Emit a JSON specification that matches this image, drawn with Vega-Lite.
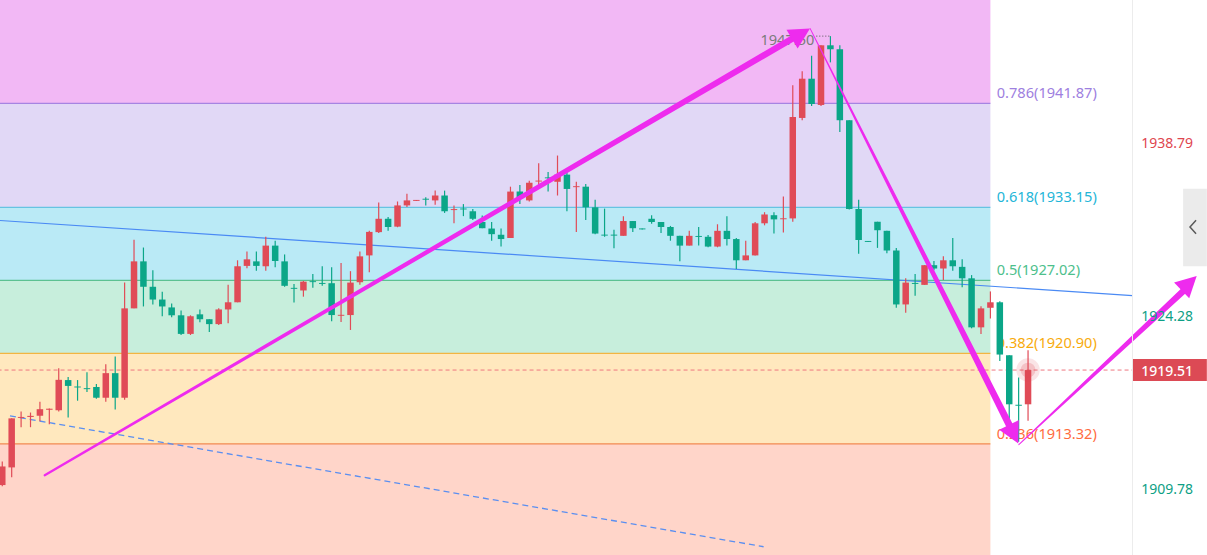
{
  "$schema": "https://vega.github.io/schema/vega-lite/v6.json",
  "width": 1197,
  "height": 545,
  "padding": {"left": 5, "top": 5, "right": 5, "bottom": 5},
  "autosize": {"type": "none"},
  "background": "#ffffff",
  "config": {"view": {"stroke": null}, "text": {"font": "Noto Sans"}},
  "resolve": {"scale": {"fill": "independent", "stroke": "independent", "color": "independent"}},
  "datasets": {
    "candles": [
      {"t":-1,"o":1909.87,"h":1911.84,"l":1909.78,"c":1911.43},
      {"t":0,"o":1911.35,"h":1915.46,"l":1910.52,"c":1915.46},
      {"t":1,"o":1915.50,"h":1916.04,"l":1914.72,"c":1915.58},
      {"t":2,"o":1915.58,"h":1915.95,"l":1914.72,"c":1915.67},
      {"t":3,"o":1915.68,"h":1916.86,"l":1915.21,"c":1916.23},
      {"t":4,"o":1916.18,"h":1916.28,"l":1914.97,"c":1916.27},
      {"t":5,"o":1916.14,"h":1919.66,"l":1916.04,"c":1918.69},
      {"t":6,"o":1918.67,"h":1918.92,"l":1915.54,"c":1918.18},
      {"t":7,"o":1918.13,"h":1918.67,"l":1916.94,"c":1918.05},
      {"t":8,"o":1917.99,"h":1919.33,"l":1917.68,"c":1917.91},
      {"t":9,"o":1918.09,"h":1918.34,"l":1917.11,"c":1917.19},
      {"t":10,"o":1917.19,"h":1919.99,"l":1916.86,"c":1919.25},
      {"t":11,"o":1919.25,"h":1920.64,"l":1916.20,"c":1917.19},
      {"t":12,"o":1917.19,"h":1926.84,"l":1917.02,"c":1924.68},
      {"t":13,"o":1924.68,"h":1930.44,"l":1924.68,"c":1928.62},
      {"t":14,"o":1928.62,"h":1929.78,"l":1924.84,"c":1926.49},
      {"t":15,"o":1926.49,"h":1927.88,"l":1925.01,"c":1925.42},
      {"t":16,"o":1925.42,"h":1926.07,"l":1924.02,"c":1924.84},
      {"t":17,"o":1924.76,"h":1925.09,"l":1923.93,"c":1924.10},
      {"t":18,"o":1924.10,"h":1924.51,"l":1922.45,"c":1922.54},
      {"t":19,"o":1922.54,"h":1924.10,"l":1922.45,"c":1924.02},
      {"t":20,"o":1924.18,"h":1924.59,"l":1923.52,"c":1923.77},
      {"t":21,"o":1923.77,"h":1923.77,"l":1922.70,"c":1923.36},
      {"t":22,"o":1923.36,"h":1924.68,"l":1923.28,"c":1924.59},
      {"t":23,"o":1924.59,"h":1926.65,"l":1923.44,"c":1925.19},
      {"t":24,"o":1925.19,"h":1928.71,"l":1925.19,"c":1928.21},
      {"t":25,"o":1928.24,"h":1929.45,"l":1928.05,"c":1928.79},
      {"t":26,"o":1928.62,"h":1929.45,"l":1927.83,"c":1928.24},
      {"t":27,"o":1928.21,"h":1930.68,"l":1927.83,"c":1929.94},
      {"t":28,"o":1929.94,"h":1930.35,"l":1928.13,"c":1928.65},
      {"t":29,"o":1928.62,"h":1929.20,"l":1926.49,"c":1926.57},
      {"t":30,"o":1926.40,"h":1926.73,"l":1925.17,"c":1926.32},
      {"t":31,"o":1926.18,"h":1926.98,"l":1925.66,"c":1926.92},
      {"t":32,"o":1926.96,"h":1927.56,"l":1926.40,"c":1926.88},
      {"t":33,"o":1926.81,"h":1928.21,"l":1926.57,"c":1926.73},
      {"t":34,"o":1926.79,"h":1928.13,"l":1923.61,"c":1924.12},
      {"t":35,"o":1924.06,"h":1928.49,"l":1923.53,"c":1924.14},
      {"t":36,"o":1924.12,"h":1927.80,"l":1922.87,"c":1926.84},
      {"t":37,"o":1926.87,"h":1929.45,"l":1926.65,"c":1929.04},
      {"t":38,"o":1929.12,"h":1931.18,"l":1927.70,"c":1931.09},
      {"t":39,"o":1931.07,"h":1933.56,"l":1930.99,"c":1932.19},
      {"t":40,"o":1932.19,"h":1932.33,"l":1931.18,"c":1931.50},
      {"t":41,"o":1931.53,"h":1933.64,"l":1931.48,"c":1933.31},
      {"t":42,"o":1933.31,"h":1934.28,"l":1933.17,"c":1933.73},
      {"t":43,"o":1933.69,"h":1933.77,"l":1933.69,"c":1933.77},
      {"t":44,"o":1933.87,"h":1933.99,"l":1933.31,"c":1933.79},
      {"t":45,"o":1933.73,"h":1934.55,"l":1933.37,"c":1934.14},
      {"t":46,"o":1934.14,"h":1934.55,"l":1932.68,"c":1932.82},
      {"t":47,"o":1932.92,"h":1933.31,"l":1931.81,"c":1933.00},
      {"t":48,"o":1933.05,"h":1933.42,"l":1932.41,"c":1932.97},
      {"t":49,"o":1932.82,"h":1933.01,"l":1932.08,"c":1932.19},
      {"t":50,"o":1931.92,"h":1932.47,"l":1931.40,"c":1931.40},
      {"t":51,"o":1931.37,"h":1931.92,"l":1930.35,"c":1930.90},
      {"t":52,"o":1930.85,"h":1931.37,"l":1929.86,"c":1930.49},
      {"t":53,"o":1930.58,"h":1934.88,"l":1930.58,"c":1934.47},
      {"t":54,"o":1934.47,"h":1935.02,"l":1933.42,"c":1933.92},
      {"t":55,"o":1933.73,"h":1935.37,"l":1933.64,"c":1935.21},
      {"t":56,"o":1935.31,"h":1936.85,"l":1934.74,"c":1935.39},
      {"t":57,"o":1935.66,"h":1936.11,"l":1934.47,"c":1935.58},
      {"t":58,"o":1935.29,"h":1937.49,"l":1934.14,"c":1935.89},
      {"t":59,"o":1935.89,"h":1936.11,"l":1932.82,"c":1934.69},
      {"t":60,"o":1934.84,"h":1935.29,"l":1931.09,"c":1934.92},
      {"t":61,"o":1934.88,"h":1935.10,"l":1932.08,"c":1933.15},
      {"t":62,"o":1933.15,"h":1933.78,"l":1930.90,"c":1930.95},
      {"t":63,"o":1930.86,"h":1933.04,"l":1930.68,"c":1930.78},
      {"t":64,"o":1930.86,"h":1931.26,"l":1929.72,"c":1930.78},
      {"t":65,"o":1930.76,"h":1932.41,"l":1930.76,"c":1932.00},
      {"t":66,"o":1932.00,"h":1932.00,"l":1931.09,"c":1931.40},
      {"t":67,"o":1931.38,"h":1931.38,"l":1931.30,"c":1931.30},
      {"t":68,"o":1932.19,"h":1932.49,"l":1931.78,"c":1931.92},
      {"t":69,"o":1931.92,"h":1931.92,"l":1930.99,"c":1931.50},
      {"t":70,"o":1931.50,"h":1931.59,"l":1930.35,"c":1930.76},
      {"t":71,"o":1930.76,"h":1930.76,"l":1928.62,"c":1929.94},
      {"t":72,"o":1929.94,"h":1931.18,"l":1929.94,"c":1930.76},
      {"t":73,"o":1930.75,"h":1931.50,"l":1929.94,"c":1930.67},
      {"t":74,"o":1930.68,"h":1930.82,"l":1929.80,"c":1929.86},
      {"t":75,"o":1929.86,"h":1931.73,"l":1929.80,"c":1931.18},
      {"t":76,"o":1931.18,"h":1932.41,"l":1929.94,"c":1930.49},
      {"t":77,"o":1930.49,"h":1930.57,"l":1927.97,"c":1928.71},
      {"t":78,"o":1928.71,"h":1930.35,"l":1928.71,"c":1929.12},
      {"t":79,"o":1929.12,"h":1931.92,"l":1929.12,"c":1931.81},
      {"t":80,"o":1931.81,"h":1932.74,"l":1931.64,"c":1932.55},
      {"t":81,"o":1932.49,"h":1932.74,"l":1930.95,"c":1932.14},
      {"t":82,"o":1932.15,"h":1934.06,"l":1931.04,"c":1932.23},
      {"t":83,"o":1932.22,"h":1943.38,"l":1931.94,"c":1940.72},
      {"t":84,"o":1940.64,"h":1944.56,"l":1940.45,"c":1943.93},
      {"t":85,"o":1943.93,"h":1945.85,"l":1941.65,"c":1941.81},
      {"t":86,"o":1941.73,"h":1946.73,"l":1941.65,"c":1946.73},
      {"t":87,"o":1946.73,"h":1947.50,"l":1945.30,"c":1946.40},
      {"t":88,"o":1946.40,"h":1946.73,"l":1939.46,"c":1940.45},
      {"t":89,"o":1940.45,"h":1940.45,"l":1932.96,"c":1933.01},
      {"t":90,"o":1933.01,"h":1933.78,"l":1929.26,"c":1930.41},
      {"t":91,"o":1930.33,"h":1930.33,"l":1930.25,"c":1930.25},
      {"t":92,"o":1931.94,"h":1931.94,"l":1929.75,"c":1931.23},
      {"t":93,"o":1931.18,"h":1931.18,"l":1929.31,"c":1929.53},
      {"t":94,"o":1929.53,"h":1929.75,"l":1924.73,"c":1925.01},
      {"t":95,"o":1925.01,"h":1927.20,"l":1924.32,"c":1926.84},
      {"t":96,"o":1926.81,"h":1927.56,"l":1925.74,"c":1926.73},
      {"t":97,"o":1926.65,"h":1928.30,"l":1926.65,"c":1928.30},
      {"t":98,"o":1928.30,"h":1928.65,"l":1927.88,"c":1928.02},
      {"t":99,"o":1928.02,"h":1929.04,"l":1927.06,"c":1928.71},
      {"t":100,"o":1928.71,"h":1930.58,"l":1927.83,"c":1928.21},
      {"t":101,"o":1928.16,"h":1928.79,"l":1926.46,"c":1927.20},
      {"t":102,"o":1927.20,"h":1927.47,"l":1923.01,"c":1923.09},
      {"t":103,"o":1923.09,"h":1924.86,"l":1922.54,"c":1924.68},
      {"t":104,"o":1924.73,"h":1926.10,"l":1923.83,"c":1925.19},
      {"t":105,"o":1925.19,"h":1925.28,"l":1920.26,"c":1920.81},
      {"t":106,"o":1920.75,"h":1920.75,"l":1914.86,"c":1916.64},
      {"t":107,"o":1916.60,"h":1918.89,"l":1913.49,"c":1916.52},
      {"t":108,"o":1916.64,"h":1921.16,"l":1915.27,"c":1919.51}
    ],
    "bands": [
      {"lv":"1","t0":-1.5,"t1":104,"lo":1941.87,"hi":1952.97},
      {"lv":"0.786","t0":-1.5,"t1":104,"lo":1933.15,"hi":1941.87},
      {"lv":"0.618","t0":-1.5,"t1":104,"lo":1927.02,"hi":1933.15},
      {"lv":"0.5","t0":-1.5,"t1":104,"lo":1920.90,"hi":1927.02},
      {"lv":"0.382","t0":-1.5,"t1":104,"lo":1913.32,"hi":1920.90},
      {"lv":"0.236","t0":-1.5,"t1":104,"lo":1901.07,"hi":1913.32}
    ],
    "fib": [
      {"lv":"0.786","t0":-1.5,"t1":104,"tl":104.67,"p":1941.87,"label":"0.786(1941.87)"},
      {"lv":"0.618","t0":-1.5,"t1":104,"tl":104.67,"p":1933.15,"label":"0.618(1933.15)"},
      {"lv":"0.5","t0":-1.5,"t1":104,"tl":104.67,"p":1927.02,"label":"0.5(1927.02)"},
      {"lv":"0.382","t0":-1.5,"t1":104,"tl":104.67,"p":1920.90,"label":"0.382(1920.90)"},
      {"lv":"0.236","t0":-1.5,"t1":104,"tl":104.67,"p":1913.32,"label":"0.236(1913.32)"}
    ],
    "trend": [
      {"id":"solid","t":-1.5,"p":1932.06},
      {"id":"solid","t":119.1,"p":1925.75},
      {"id":"dash","t":-0.18,"p":1915.67},
      {"id":"dash","t":79.9,"p":1904.70}
    ],
    "arrows": [
      {"id":"a1","k":0,"t":3.51,"p":1910.69,"w":2.2},
      {"id":"a1","k":1,"t":83.2,"p":1947.4,"w":6.5},
      {"id":"a2","k":0,"t":84.85,"p":1948.13,"w":1},
      {"id":"a2","k":1,"t":106.2,"p":1914.6,"w":7},
      {"id":"a3","k":0,"t":107.02,"p":1913.26,"w":1},
      {"id":"a3","k":1,"t":124.6,"p":1926.2,"w":6.5}
    ],
    "heads": [
      {"t":84.83,"p":1948.13,"ang":59.5},
      {"t":106.96,"p":1913.35,"ang":153.6},
      {"t":125.92,"p":1927.39,"ang":46.3}
    ],
    "ticks": [
      {"t":120.02,"v":1938.79},
      {"t":120.02,"v":1924.28},
      {"t":120.02,"v":1909.78}
    ],
    "last": [
      {"t0":-1.5,"t1":119.1,"b0":119.15,"b1":127,"tl":120.02,"p":1919.51}
    ],
    "high": [
      {"t":87,"t0":85.5,"p":1947.50}
    ],
    "panel": [
      {"sep":119.1,"s0":1902,"s1":1952,"t0":124.48,"t1":127,"p0":1934.71,"p1":1928.21,"tc":125.53,"pc":1931.5}
    ]
  },
  "layer": [
    {
      "data": {"name": "bands"},
      "mark": {"type": "rect"},
      "encoding": {
        "x": {"field": "t0", "type": "quantitative", "scale": {"domain": [-0.1791, 125.953], "nice": false, "zero": false}, "axis": null},
        "x2": {"field": "t1"},
        "y": {"field": "lo", "type": "quantitative", "scale": {"domain": [1904.846, 1949.689], "nice": false, "zero": false}, "axis": null},
        "y2": {"field": "hi"},
        "fill": {"field": "lv", "type": "nominal", "legend": null,
          "scale": {"domain": ["1","0.786","0.618","0.5","0.382","0.236"], "range": ["#F2B8F5","#E1D8F6","#BAEAF6","#C7EEDC","#FFE8BE","#FFD5C9"]}}
      }
    },
    {
      "data": {"name": "fib"},
      "mark": {"type": "rule", "strokeWidth": 1.2},
      "encoding": {
        "x": {"field": "t0", "type": "quantitative", "scale": {"domain": [-0.1791, 125.953], "nice": false, "zero": false}, "axis": null},
        "x2": {"field": "t1"},
        "y": {"field": "p", "type": "quantitative", "scale": {"domain": [1904.846, 1949.689], "nice": false, "zero": false}, "axis": null},
        "stroke": {"field": "lv", "type": "nominal", "legend": null,
          "scale": {"domain": ["0.786","0.618","0.5","0.382","0.236"], "range": ["#A684E2","#66C4E2","#5CC192","#F2B541","#F28A52"]}}
      }
    },
    {
      "data": {"name": "fib"},
      "mark": {"type": "text", "align": "left", "baseline": "alphabetic", "dy": -5, "fontSize": 14.6},
      "encoding": {
        "x": {"field": "tl", "type": "quantitative", "scale": {"domain": [-0.1791, 125.953], "nice": false, "zero": false}, "axis": null},
        "y": {"field": "p", "type": "quantitative", "scale": {"domain": [1904.846, 1949.689], "nice": false, "zero": false}, "axis": null},
        "text": {"field": "label", "type": "nominal"},
        "color": {"field": "lv", "type": "nominal", "legend": null,
          "scale": {"domain": ["0.786","0.618","0.5","0.382","0.236"], "range": ["#9E80E0","#24B6D8","#4DC08C","#F8AB0C","#FF6C3F"]}}
      }
    },
    {
      "data": {"name": "trend"},
      "transform": [{"filter": "datum.id == 'solid'"}],
      "mark": {"type": "line", "color": "#4A8AF4", "strokeWidth": 1.2},
      "encoding": {
        "x": {"field": "t", "type": "quantitative", "scale": {"domain": [-0.1791, 125.953], "nice": false, "zero": false}, "axis": null},
        "y": {"field": "p", "type": "quantitative", "scale": {"domain": [1904.846, 1949.689], "nice": false, "zero": false}, "axis": null}
      }
    },
    {
      "data": {"name": "trend"},
      "transform": [{"filter": "datum.id == 'dash'"}],
      "mark": {"type": "line", "color": "#5B8FF0", "strokeWidth": 1.3, "strokeDash": [6, 4]},
      "encoding": {
        "x": {"field": "t", "type": "quantitative", "scale": {"domain": [-0.1791, 125.953], "nice": false, "zero": false}, "axis": null},
        "y": {"field": "p", "type": "quantitative", "scale": {"domain": [1904.846, 1949.689], "nice": false, "zero": false}, "axis": null}
      }
    },
    {
      "data": {"name": "last"},
      "mark": {"type": "rule", "color": "#EE7780", "strokeWidth": 1, "strokeDash": [4, 3]},
      "encoding": {
        "x": {"field": "t0", "type": "quantitative", "scale": {"domain": [-0.1791, 125.953], "nice": false, "zero": false}, "axis": null},
        "x2": {"field": "t1"},
        "y": {"field": "p", "type": "quantitative", "scale": {"domain": [1904.846, 1949.689], "nice": false, "zero": false}, "axis": null}
      }
    },
    {
      "data": {"name": "high"},
      "mark": {"type": "text", "align": "right", "baseline": "middle", "dx": -16, "dy": 5, "fontSize": 14.6, "color": "#7B7B7B"},
      "encoding": {
        "x": {"field": "t", "type": "quantitative", "scale": {"domain": [-0.1791, 125.953], "nice": false, "zero": false}, "axis": null},
        "y": {"field": "p", "type": "quantitative", "scale": {"domain": [1904.846, 1949.689], "nice": false, "zero": false}, "axis": null},
        "text": {"field": "p", "type": "quantitative", "format": ".2f"}
      }
    },
    {
      "data": {"name": "high"},
      "mark": {"type": "rule", "color": "#555555", "strokeWidth": 1, "strokeDash": [1, 2]},
      "encoding": {
        "x": {"field": "t0", "type": "quantitative", "scale": {"domain": [-0.1791, 125.953], "nice": false, "zero": false}, "axis": null},
        "x2": {"field": "t"},
        "y": {"field": "p", "type": "quantitative", "scale": {"domain": [1904.846, 1949.689], "nice": false, "zero": false}, "axis": null}
      }
    },
    {
      "data": {"name": "candles"},
      "mark": {"type": "rule", "strokeWidth": 1.2},
      "encoding": {
        "x": {"field": "t", "type": "quantitative", "scale": {"domain": [-0.1791, 125.953], "nice": false, "zero": false}, "axis": null},
        "y": {"field": "l", "type": "quantitative", "scale": {"domain": [1904.846, 1949.689], "nice": false, "zero": false}, "axis": null},
        "y2": {"field": "h"},
        "color": {"condition": {"test": "datum.c > datum.o", "value": "#E04B57"}, "value": "#0BA688"}
      }
    },
    {
      "data": {"name": "candles"},
      "mark": {"type": "bar", "width": 6.5},
      "encoding": {
        "x": {"field": "t", "type": "quantitative", "scale": {"domain": [-0.1791, 125.953], "nice": false, "zero": false}, "axis": null},
        "y": {"field": "o", "type": "quantitative", "scale": {"domain": [1904.846, 1949.689], "nice": false, "zero": false}, "axis": null},
        "y2": {"field": "c"},
        "color": {"condition": {"test": "datum.c > datum.o", "value": "#E04B57"}, "value": "#0BA688"}
      }
    },
    {
      "data": {"name": "candles"},
      "transform": [{"filter": "datum.t == 108"}],
      "mark": {"type": "point", "filled": true, "size": 550, "color": "#E04B57", "opacity": 0.15, "strokeWidth": 0},
      "encoding": {
        "x": {"field": "t", "type": "quantitative", "scale": {"domain": [-0.1791, 125.953], "nice": false, "zero": false}, "axis": null},
        "y": {"field": "c", "type": "quantitative", "scale": {"domain": [1904.846, 1949.689], "nice": false, "zero": false}, "axis": null}
      }
    },
    {
      "data": {"name": "candles"},
      "transform": [{"filter": "datum.t == 108"}],
      "mark": {"type": "point", "filled": true, "size": 220, "color": "#E04B57", "opacity": 0.22, "strokeWidth": 0},
      "encoding": {
        "x": {"field": "t", "type": "quantitative", "scale": {"domain": [-0.1791, 125.953], "nice": false, "zero": false}, "axis": null},
        "y": {"field": "c", "type": "quantitative", "scale": {"domain": [1904.846, 1949.689], "nice": false, "zero": false}, "axis": null}
      }
    },
    {
      "data": {"name": "arrows"},
      "mark": {"type": "trail", "color": "#EE2BEE"},
      "encoding": {
        "x": {"field": "t", "type": "quantitative", "scale": {"domain": [-0.1791, 125.953], "nice": false, "zero": false}, "axis": null},
        "y": {"field": "p", "type": "quantitative", "scale": {"domain": [1904.846, 1949.689], "nice": false, "zero": false}, "axis": null},
        "size": {"field": "w", "type": "quantitative", "scale": {"domain": [0, 10], "range": [0, 10]}, "legend": null},
        "detail": {"field": "id", "type": "nominal"},
        "order": {"field": "k", "type": "quantitative"}
      }
    },
    {
      "data": {"name": "heads"},
      "mark": {"type": "point", "shape": "M0,0L1,1.9L-1,1.9Z", "filled": true, "size": 480, "color": "#EE2BEE", "opacity": 1, "strokeWidth": 0},
      "encoding": {
        "x": {"field": "t", "type": "quantitative", "scale": {"domain": [-0.1791, 125.953], "nice": false, "zero": false}, "axis": null},
        "y": {"field": "p", "type": "quantitative", "scale": {"domain": [1904.846, 1949.689], "nice": false, "zero": false}, "axis": null},
        "angle": {"field": "ang", "type": "quantitative", "scale": null}
      }
    },
    {
      "data": {"name": "panel"},
      "mark": {"type": "rule", "color": "#ECECEC", "strokeWidth": 1},
      "encoding": {
        "x": {"field": "sep", "type": "quantitative", "scale": {"domain": [-0.1791, 125.953], "nice": false, "zero": false}, "axis": null},
        "y": {"field": "s0", "type": "quantitative", "scale": {"domain": [1904.846, 1949.689], "nice": false, "zero": false}, "axis": null},
        "y2": {"field": "s1"}
      }
    },
    {
      "data": {"name": "ticks"},
      "mark": {"type": "text", "align": "left", "baseline": "middle", "dy": 4, "fontSize": 14},
      "encoding": {
        "x": {"field": "t", "type": "quantitative", "scale": {"domain": [-0.1791, 125.953], "nice": false, "zero": false}, "axis": null},
        "y": {"field": "v", "type": "quantitative", "scale": {"domain": [1904.846, 1949.689], "nice": false, "zero": false}, "axis": null},
        "text": {"field": "v", "type": "quantitative", "format": ".2f"},
        "color": {"condition": {"test": "datum.v > 1930", "value": "#E0464F"}, "value": "#0E9F85"}
      }
    },
    {
      "data": {"name": "last"},
      "mark": {"type": "bar", "height": 22, "color": "#DC4A55", "orient": "horizontal"},
      "encoding": {
        "x": {"field": "b0", "type": "quantitative", "scale": {"domain": [-0.1791, 125.953], "nice": false, "zero": false}, "axis": null},
        "x2": {"field": "b1"},
        "y": {"field": "p", "type": "quantitative", "scale": {"domain": [1904.846, 1949.689], "nice": false, "zero": false}, "axis": null}
      }
    },
    {
      "data": {"name": "last"},
      "mark": {"type": "text", "align": "left", "baseline": "middle", "dy": 2, "fontSize": 14, "fontWeight": 500, "color": "#ffffff"},
      "encoding": {
        "x": {"field": "tl", "type": "quantitative", "scale": {"domain": [-0.1791, 125.953], "nice": false, "zero": false}, "axis": null},
        "y": {"field": "p", "type": "quantitative", "scale": {"domain": [1904.846, 1949.689], "nice": false, "zero": false}, "axis": null},
        "text": {"field": "p", "type": "quantitative", "format": ".2f"}
      }
    },
    {
      "data": {"name": "panel"},
      "mark": {"type": "rect", "color": "#EBEBEB"},
      "encoding": {
        "x": {"field": "t0", "type": "quantitative", "scale": {"domain": [-0.1791, 125.953], "nice": false, "zero": false}, "axis": null},
        "x2": {"field": "t1"},
        "y": {"field": "p0", "type": "quantitative", "scale": {"domain": [1904.846, 1949.689], "nice": false, "zero": false}, "axis": null},
        "y2": {"field": "p1"}
      }
    },
    {
      "data": {"name": "panel"},
      "mark": {"type": "point", "shape": "M0.45,-1L-0.45,0L0.45,1", "filled": false, "size": 180, "color": "#5A5A5A", "strokeWidth": 1.5, "opacity": 1},
      "encoding": {
        "x": {"field": "tc", "type": "quantitative", "scale": {"domain": [-0.1791, 125.953], "nice": false, "zero": false}, "axis": null},
        "y": {"field": "pc", "type": "quantitative", "scale": {"domain": [1904.846, 1949.689], "nice": false, "zero": false}, "axis": null}
      }
    }
  ]
}
